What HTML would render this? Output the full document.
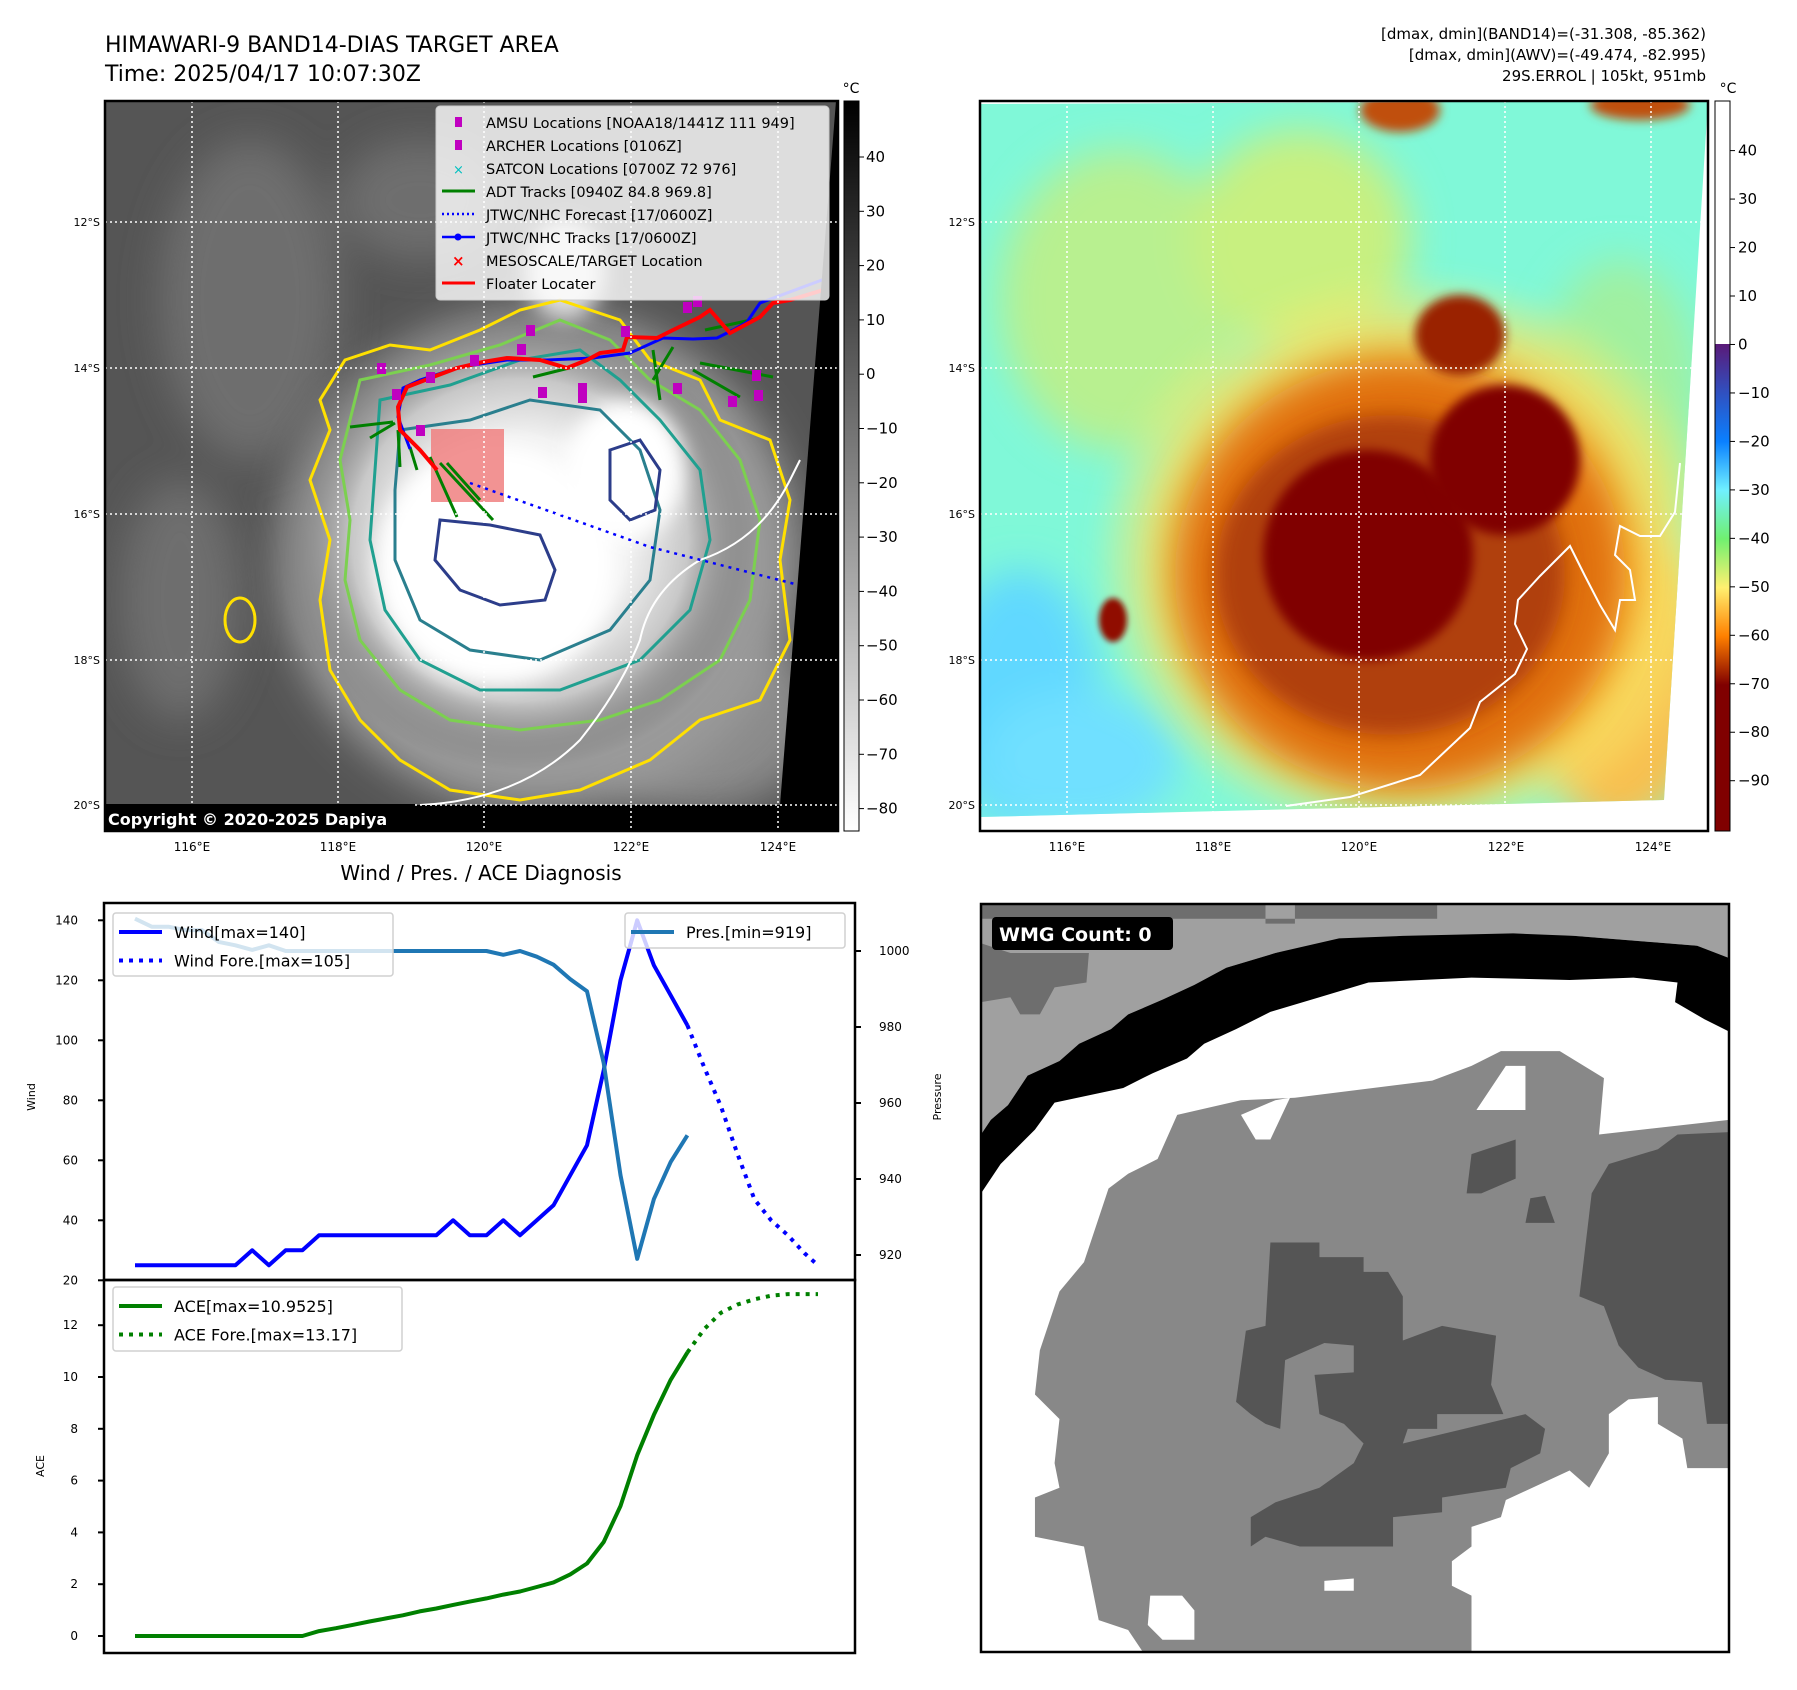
<!DOCTYPE html>
<html><head><meta charset="utf-8">
<style>
html,body{margin:0;padding:0;background:#fff;}
svg{display:block;font-family:"DejaVu Sans","Liberation Sans",sans-serif;}
</style></head>
<body>
<svg id="root" width="1797" height="1690" viewBox="0 0 1797 1690" xmlns="http://www.w3.org/2000/svg">
<defs>
  <filter id="b20" x="-50%" y="-50%" width="200%" height="200%"><feGaussianBlur stdDeviation="20"/></filter>
  <filter id="b10" x="-50%" y="-50%" width="200%" height="200%"><feGaussianBlur stdDeviation="10"/></filter>
  <filter id="b5" x="-50%" y="-50%" width="200%" height="200%"><feGaussianBlur stdDeviation="5"/></filter>
  <filter id="b3" x="-50%" y="-50%" width="200%" height="200%"><feGaussianBlur stdDeviation="3"/></filter>
  <clipPath id="clipL"><rect x="105" y="101" width="733" height="730"/></clipPath>
  <clipPath id="clipR"><polygon points="980,104 1708,101 1664,800 980,817"/></clipPath>
  <clipPath id="clipB"><rect x="981" y="904" width="748" height="748"/></clipPath>
  <linearGradient id="grayBar" x1="0" y1="0" x2="0" y2="1">
    <stop offset="0" stop-color="#000"/><stop offset="1" stop-color="#fff"/>
  </linearGradient>
  <linearGradient id="jetBar" x1="0" y1="0" x2="0" y2="1">
    <stop offset="0" stop-color="#5a1a78"/>
    <stop offset="0.1" stop-color="#3050c0"/>
    <stop offset="0.2" stop-color="#0a80ff"/>
    <stop offset="0.3" stop-color="#70f0ff"/>
    <stop offset="0.4" stop-color="#70f070"/>
    <stop offset="0.5" stop-color="#fff070"/>
    <stop offset="0.6" stop-color="#ff8000"/>
    <stop offset="0.7" stop-color="#800000"/>
    <stop offset="1" stop-color="#800000"/>
  </linearGradient>
  <radialGradient id="stormL" cx="0.5" cy="0.5" r="0.5">
    <stop offset="0" stop-color="#fff"/><stop offset="0.45" stop-color="#f2f2f2"/>
    <stop offset="0.7" stop-color="#c8c8c8"/><stop offset="1" stop-color="#5c5c5c" stop-opacity="0"/>
  </radialGradient>
  <radialGradient id="halo" cx="0.5" cy="0.5" r="0.5">
    <stop offset="0" stop-color="#ff9a20"/><stop offset="0.55" stop-color="#ffb030"/>
    <stop offset="0.8" stop-color="#f8e060" stop-opacity="0.8"/><stop offset="1" stop-color="#f8f070" stop-opacity="0"/>
  </radialGradient>
</defs>

<!-- Titles -->
<text x="105" y="52" font-size="22" fill="#000">HIMAWARI-9 BAND14-DIAS TARGET AREA</text>
<text x="105" y="81" font-size="22" fill="#000">Time: 2025/04/17 10:07:30Z</text>
<g font-size="15" text-anchor="end" fill="#000">
  <text x="1706" y="39">[dmax, dmin](BAND14)=(-31.308, -85.362)</text>
  <text x="1706" y="60">[dmax, dmin](AWV)=(-49.474, -82.995)</text>
  <text x="1706" y="81">29S.ERROL | 105kt, 951mb</text>
</g>

<!-- LEFT MAP -->
<g clip-path="url(#clipL)">
  <rect x="105" y="101" width="733" height="730" fill="#555"/>
  <g filter="url(#b20)" fill="#6e6e6e">
    <ellipse cx="250" cy="300" rx="90" ry="160"/>
    <ellipse cx="180" cy="600" rx="60" ry="120"/>
    <ellipse cx="420" cy="200" rx="80" ry="60"/>
    <ellipse cx="700" cy="720" rx="120" ry="90" fill="#8a8a8a"/>
  </g>
  <ellipse cx="540" cy="560" rx="260" ry="250" fill="#9a9a9a" filter="url(#b20)"/>
  <ellipse cx="520" cy="540" rx="240" ry="230" fill="url(#stormL)"/>
  <ellipse cx="495" cy="565" rx="120" ry="120" fill="#fff" filter="url(#b10)"/>
  <ellipse cx="625" cy="470" rx="60" ry="70" fill="#fff" filter="url(#b10)"/>
  <ellipse cx="565" cy="270" rx="40" ry="50" fill="#ddd" filter="url(#b10)"/>
  <path d="M345,360 L390,345 430,350 480,330 520,310 560,300 620,320 650,360 700,380 720,420 770,440 790,500 780,560 790,640 760,700 700,720 650,760 580,790 520,800 450,790 400,760 360,720 330,670 320,600 330,540 310,480 330,430 320,400 Z" fill="none" stroke="#ffe000" stroke-width="3"/>
  <path d="M360,380 L430,365 500,345 560,320 610,340 650,380 700,410 740,460 760,520 750,600 720,660 660,700 600,720 520,730 450,720 400,690 360,640 345,580 350,520 340,460 Z" fill="none" stroke="#7cd050" stroke-width="3"/>
  <path d="M380,400 L450,385 520,360 580,350 620,380 660,420 700,470 710,540 690,610 640,660 560,690 480,690 420,660 385,610 370,540 375,470 Z" fill="none" stroke="#20a090" stroke-width="3"/>
  <path d="M400,430 L470,420 530,400 600,410 640,450 660,510 650,580 610,630 540,660 470,650 420,620 395,560 395,490 Z" fill="none" stroke="#2a7f8e" stroke-width="3"/>
  <path d="M440,520 L490,525 540,535 555,570 545,600 500,605 460,590 435,560 Z" fill="none" stroke="#2c3d8a" stroke-width="3"/>
  <path d="M610,450 L640,440 660,470 655,510 630,520 610,500 Z" fill="none" stroke="#2c3d8a" stroke-width="3"/>
  <ellipse cx="240" cy="620" rx="15" ry="22" fill="none" stroke="#ffe000" stroke-width="3"/>
  <path d="M420,805 Q520,800 580,740 Q620,690 640,640 Q650,590 700,560 Q760,540 790,480 L800,460" fill="none" stroke="#fff" stroke-width="2"/>
  <rect x="431" y="429" width="73" height="73" fill="#f08080" fill-opacity="0.85"/>
  <polyline points="470,483 650,547 838,595" fill="none" stroke="#0000ff" stroke-width="2.5" stroke-dasharray="3,5"/>
  <g stroke="#008000" stroke-width="3">
    <line x1="350" y1="427" x2="393" y2="422"/><line x1="370" y1="438" x2="395" y2="423"/>
    <line x1="400" y1="467" x2="398" y2="430"/><line x1="417" y1="470" x2="410" y2="447"/>
    <line x1="457" y1="517" x2="430" y2="457"/><line x1="493" y1="520" x2="440" y2="463"/>
    <line x1="480" y1="500" x2="447" y2="463"/><line x1="533" y1="377" x2="573" y2="367"/>
    <line x1="660" y1="400" x2="653" y2="350"/><line x1="653" y1="380" x2="673" y2="347"/>
    <line x1="740" y1="397" x2="693" y2="370"/><line x1="773" y1="377" x2="700" y2="363"/>
    <line x1="705" y1="330" x2="760" y2="318"/>
  </g>
  <polyline points="410,449 398,417 403,388 420,380 460,367 507,360 547,360 593,358 630,353 663,338 693,339 717,338 733,330 747,322 760,303 830,277" fill="none" stroke="#0000ff" stroke-width="3"/>
  <polyline points="437,470 420,450 400,430 398,407 407,387 420,382 433,377 457,368 483,362 507,358 540,360 567,368 587,360 600,353 623,350 627,337 657,338 673,330 700,317 710,310 730,333 760,317 773,303 790,300 830,288" fill="none" stroke="#ff0000" stroke-width="4"/>
  <g fill="#c000c0">
    <rect x="377" y="363" width="9" height="11"/><rect x="392" y="389" width="9" height="11"/>
    <rect x="426" y="372" width="9" height="11"/><rect x="470" y="355" width="9" height="11"/>
    <rect x="517" y="344" width="9" height="11"/><rect x="526" y="325" width="9" height="11"/>
    <rect x="538" y="387" width="9" height="11"/><rect x="578" y="383" width="9" height="20"/>
    <rect x="621" y="326" width="9" height="11"/><rect x="683" y="302" width="9" height="11"/>
    <rect x="693" y="296" width="9" height="11"/><rect x="752" y="370" width="9" height="11"/>
    <rect x="754" y="390" width="9" height="11"/><rect x="728" y="396" width="9" height="11"/>
    <rect x="673" y="383" width="9" height="11"/><rect x="416" y="425" width="9" height="11"/>
  </g>
  <polygon points="836,101 840,101 840,835 780,835 780,805" fill="#000"/>
  <rect x="105" y="805" width="735" height="30" fill="#000"/>
  <g stroke="#fff" stroke-width="1.5" stroke-dasharray="2,3">
    <line x1="192" y1="101" x2="192" y2="831"/><line x1="338" y1="101" x2="338" y2="831"/>
    <line x1="484" y1="101" x2="484" y2="831"/><line x1="631" y1="101" x2="631" y2="831"/>
    <line x1="778" y1="101" x2="778" y2="831"/>
    <line x1="105" y1="222" x2="838" y2="222"/><line x1="105" y1="368" x2="838" y2="368"/>
    <line x1="105" y1="514" x2="838" y2="514"/><line x1="105" y1="660" x2="838" y2="660"/>
    <line x1="105" y1="805" x2="838" y2="805"/>
  </g>
</g>
<rect x="105" y="101" width="733" height="730" fill="none" stroke="#000" stroke-width="2.5"/>
<g>
  <rect x="436" y="106" width="393" height="194" rx="4" fill="#fff" fill-opacity="0.8" stroke="#ccc"/>
  <g font-size="14.5" fill="#000">
    <rect x="455" y="117" width="7" height="10" fill="#c000c0"/><text x="486" y="128">AMSU Locations [NOAA18/1441Z 111 949]</text>
    <rect x="455" y="140" width="7" height="10" fill="#c000c0"/><text x="486" y="151">ARCHER Locations [0106Z]</text>
    <text x="453" y="174" fill="#00c0c0" font-size="13">×</text><text x="486" y="174">SATCON Locations [0700Z 72 976]</text>
    <line x1="442" y1="191" x2="475" y2="191" stroke="#008000" stroke-width="3"/><text x="486" y="197">ADT Tracks [0940Z 84.8 969.8]</text>
    <line x1="442" y1="214" x2="475" y2="214" stroke="#0000ff" stroke-width="2.5" stroke-dasharray="2,3"/><text x="486" y="220">JTWC/NHC Forecast [17/0600Z]</text>
    <line x1="442" y1="237" x2="475" y2="237" stroke="#0000ff" stroke-width="2.5"/><circle cx="458" cy="237" r="3.5" fill="#0000ff"/><text x="486" y="243">JTWC/NHC Tracks [17/0600Z]</text>
    <text x="452" y="266" fill="#ff0000" font-size="15" font-weight="bold">×</text><text x="486" y="266">MESOSCALE/TARGET Location</text>
    <line x1="442" y1="283" x2="475" y2="283" stroke="#ff0000" stroke-width="3"/><text x="486" y="289">Floater Locater</text>
  </g>
</g>
<g>
  <rect x="105" y="804" width="310" height="27" fill="#000"/>
  <text x="108" y="825" font-size="16" font-weight="bold" fill="#fff">Copyright © 2020-2025 Dapiya</text>
</g>
<g>
  <rect x="844" y="101" width="15" height="730" fill="url(#grayBar)" stroke="#000" stroke-width="1"/>
  <text x="851" y="93" font-size="14" text-anchor="middle">°C</text>
  <g id="cbL" font-size="15"></g>
</g>

<!-- RIGHT MAP -->
<g>
  <g clip-path="url(#clipR)">
    <rect x="975" y="95" width="740" height="730" fill="#80f8d8"/>
    <g filter="url(#b20)">
      <ellipse cx="1020" cy="700" rx="80" ry="130" fill="#60d8ff"/>
      <ellipse cx="1080" cy="760" rx="100" ry="70" fill="#70e0ff"/>
      <ellipse cx="1120" cy="300" rx="120" ry="150" fill="#b8f090"/>
      <ellipse cx="1300" cy="240" rx="110" ry="110" fill="#c8f080"/>
      <ellipse cx="1620" cy="400" rx="80" ry="140" fill="#a0f0a0"/>
      <ellipse cx="1620" cy="680" rx="90" ry="150" fill="#f8c050"/>
    </g>
    <ellipse cx="1410" cy="560" rx="320" ry="290" fill="url(#halo)" filter="url(#b10)"/>
    <ellipse cx="1400" cy="575" rx="225" ry="215" fill="#e07010" filter="url(#b20)"/>
    <ellipse cx="1390" cy="575" rx="175" ry="160" fill="#b04008" filter="url(#b10)"/>
    <ellipse cx="1368" cy="555" rx="105" ry="105" fill="#800000" filter="url(#b5)"/>
    <ellipse cx="1505" cy="460" rx="75" ry="75" fill="#800000" filter="url(#b5)"/>
    <ellipse cx="1460" cy="335" rx="45" ry="40" fill="#9a2000" filter="url(#b5)"/>
    <ellipse cx="1400" cy="110" rx="40" ry="22" fill="#c05010" filter="url(#b5)"/>
    <ellipse cx="1640" cy="105" rx="50" ry="15" fill="#c05010" filter="url(#b5)"/>
    <ellipse cx="1113" cy="620" rx="14" ry="22" fill="#901000" filter="url(#b3)"/>
    <path d="M1286,806 L1350,797 1420,775 1470,728 1480,702 1515,674 1527,649 1515,624 1518,600 1540,576 1570,546 1585,576 1600,605 1615,630 1620,600 1635,600 1630,570 1615,555 1620,526 1640,536 1660,536 1675,512 1680,463" fill="none" stroke="#fff" stroke-width="2"/>
  </g>
  <g stroke="#fff" stroke-width="1.5" stroke-dasharray="2,3">
    <line x1="1067" y1="101" x2="1067" y2="831"/><line x1="1213" y1="101" x2="1213" y2="831"/>
    <line x1="1359" y1="101" x2="1359" y2="831"/><line x1="1505" y1="101" x2="1505" y2="831"/>
    <line x1="1651" y1="101" x2="1651" y2="831"/>
    <line x1="980" y1="222" x2="1708" y2="222"/><line x1="980" y1="368" x2="1708" y2="368"/>
    <line x1="980" y1="514" x2="1708" y2="514"/><line x1="980" y1="660" x2="1708" y2="660"/>
    <line x1="980" y1="805" x2="1708" y2="805"/>
  </g>
  <rect x="980" y="101" width="728" height="730" fill="none" stroke="#000" stroke-width="2.5"/>
</g>
<g>
  <rect x="1715" y="101" width="15" height="243" fill="#fff"/>
  <rect x="1715" y="344" width="15" height="487" fill="url(#jetBar)"/>
  <rect x="1715" y="101" width="15" height="730" fill="none" stroke="#000" stroke-width="1"/>
  <text x="1728" y="93" font-size="14" text-anchor="middle">°C</text>
  <g id="cbR" font-size="15"></g>
</g>
<g id="mapTicks" font-size="11" fill="#000"></g>

<!-- CHART -->
<text x="481" y="880" font-size="20" text-anchor="middle">Wind / Pres. / ACE Diagnosis</text>
<g id="chart"></g>

<!-- WMG panel -->
<g>
  <g clip-path="url(#clipB)">
    <g transform="translate(981,904) scale(0.4905,0.4905)">
      <rect x="0" y="0" width="1525" height="1525" fill="#fff"/>
      <polygon points="0,0 1525,0 1525,110 1460,85 1210,65 860,70 730,75 600,100 500,130 435,165 370,195 300,225 265,255 200,285 160,320 95,350 55,410 20,440 0,470" fill="#a0a0a0"/>
      <polygon points="0,0 580,0 580,40 640,40 640,0 930,0 930,30 0,30" fill="#6e6e6e"/>
      <polygon points="0,80 60,100 220,100 215,160 150,170 120,225 80,225 60,190 0,200" fill="#6e6e6e"/>
      <polygon points="0,470 20,440 55,410 95,350 160,320 200,285 265,255 300,225 370,195 435,165 500,130 600,100 730,70 860,65 1085,60 1210,65 1460,85 1525,110 1525,260 1475,235 1415,200 1420,160 1330,150 1200,155 1000,150 790,160 690,190 590,220 520,255 455,285 420,315 350,345 290,375 150,405 110,460 40,530 0,590" fill="#000"/>
      <polygon points="110,1000 120,910 160,790 210,730 260,580 300,550 360,520 400,430 530,400 640,395 920,360 1000,330 1060,300 1180,300 1270,355 1260,470 1525,440 1525,1150 1440,1150 1430,1090 1380,1060 1380,1005 1320,1010 1280,1040 1280,1120 1240,1190 1200,1155 1070,1215 1060,1250 1000,1270 1000,1310 960,1340 960,1390 1000,1410 1000,1525 330,1525 300,1480 240,1460 210,1310 110,1290 110,1210 160,1190 150,1140 160,1050 110,1000" fill="#888"/>
      <polygon points="1525,465 1420,470 1380,500 1280,530 1245,590 1220,800 1270,820 1300,900 1340,945 1395,970 1470,975 1480,1060 1525,1060" fill="#555"/>
      <polygon points="590,690 690,690 690,720 780,720 780,750 830,750 860,800 860,890 940,860 1050,880 1040,980 1065,1040 930,1040 930,1070 870,1070 860,1100 1110,1040 1150,1070 1140,1120 1080,1150 1070,1190 940,1210 940,1240 840,1250 840,1310 650,1310 580,1290 550,1310 550,1250 600,1220 690,1190 760,1140 780,1100 740,1060 690,1040 680,960 760,955 760,900 700,895 620,930 610,1070 580,1060 550,1040 520,1015 540,870 580,860" fill="#555"/>
      <polygon points="1000,510 1090,480 1090,560 1020,590 990,590" fill="#555"/>
      <polygon points="1120,600 1150,595 1170,650 1110,650" fill="#555"/>
      <polygon points="700,1380 760,1375 760,1400 700,1400" fill="#fff"/>
      <polygon points="345,1410 410,1410 435,1440 435,1500 370,1500 340,1470" fill="#fff"/>
      <polygon points="530,430 600,400 630,395 590,480 560,480" fill="#fff"/>
      <polygon points="1010,420 1070,330 1110,330 1110,420" fill="#fff"/>
    </g>
  </g>
  <rect x="981" y="904" width="748" height="748" fill="none" stroke="#000" stroke-width="2.5"/>
  <rect x="992" y="917" width="181" height="33" rx="4" fill="#000"/>
  <text x="999" y="941" font-size="19" font-weight="bold" fill="#fff">WMG Count: 0</text>
</g>

<script>
// ---- Chart data ----
const windHist = [25,25,25,25,25,25,25,30,25,30,30,35,35,35,35,35,35,35,35,40,35,35,40,35,40,45,55,65,90,120,140,125,115,105];
const windForeIdx = [33,34,35,36,37,38,39,40,40.8];
const windFore = [105,91,78,62,47,40,35,29,25];
const presHist = [1008.5,1006.4,1006.4,1005.5,1005.5,1002.4,1001.5,1000.3,1001.5,1000,1000,1000,1000,1000,1000,1000,1000,1000,1000,1000,1000,1000,999,1000,998.5,996.4,992.6,989.4,970.5,941,919,934.7,944.5,951.5];
const aceHist = [0,0,0,0,0,0,0,0,0,0,0,0.19,0.3,0.43,0.56,0.68,0.8,0.95,1.06,1.2,1.33,1.45,1.6,1.72,1.89,2.07,2.38,2.8,3.63,5.02,6.98,8.54,9.89,10.95];
const aceForeIdx = [33,34,35,36,37,38,39,40.8];
const aceFore = [10.95,11.85,12.48,12.8,13.0,13.14,13.2,13.2];
const windTicks = [20,40,60,80,100,120,140];
const presTicks = [920,940,960,980,1000];
const aceTicks = [0,2,4,6,8,10,12];
const grayTicks = [40,30,20,10,0,-10,-20,-30,-40,-50,-60,-70,-80];
const jetTicks = [40,30,20,10,0,-10,-20,-30,-40,-50,-60,-70,-80,-90];
const lonLabels = ["116°E","118°E","120°E","122°E","124°E"];
const latLabels = ["12°S","14°S","16°S","18°S","20°S"];

const NS = "http://www.w3.org/2000/svg";
function mk(tag, attrs, parent){const e=document.createElementNS(NS,tag);for(const k in attrs)e.setAttribute(k,attrs[k]);parent.appendChild(e);return e;}
const X0=104, X1=855, T=903, MID=1280, B=1653;
const xs = i => 135 + i*16.74;
const yWind = v => 920.3 + (140 - v)*3.0;
const yPres = v => 951 + (1000 - v)*3.8;
const yAce = v => 1636 - v*25.9;
const gray = v => 157 + (40 - v)*5.43;
const jet = v => 150.6 + (40 - v)*4.847;

const ch = document.getElementById('chart');
function pts(xsArr, ys, fy){return xsArr.map((x,i)=>xs(x).toFixed(1)+','+fy(ys[i]).toFixed(1)).join(' ');}
const idxH = windHist.map((_,i)=>i);
const idxP = presHist.map((_,i)=>i);
const idxA = aceHist.map((_,i)=>i);

const defs = document.querySelector('defs');
const cp1 = mk('clipPath',{id:'cTop'},defs); mk('rect',{x:X0,y:T,width:X1-X0,height:MID-T},cp1);
const cp2 = mk('clipPath',{id:'cBot'},defs); mk('rect',{x:X0,y:MID,width:X1-X0,height:B-MID},cp2);

const gTop = mk('g',{'clip-path':'url(#cTop)'},ch);
let e;
e = mk('polyline',{points:pts(windForeIdx,windFore,yWind),fill:'none',stroke:'#0000ff','stroke-width':4,'stroke-dasharray':'4,6'},gTop);


e = mk('polyline',{points:pts(idxH,windHist,yWind),fill:'none',stroke:'#0000ff','stroke-width':4,'stroke-linejoin':'round'},gTop);


e = mk('polyline',{points:pts(idxP,presHist,yPres),fill:'none',stroke:'#1f77b4','stroke-width':4,'stroke-linejoin':'round'},gTop);



const gBot = mk('g',{'clip-path':'url(#cBot)'},ch);
e = mk('polyline',{points:pts(aceForeIdx,aceFore,yAce),fill:'none',stroke:'#008000','stroke-width':4,'stroke-dasharray':'4,6'},gBot);


e = mk('polyline',{points:pts(idxA,aceHist,yAce),fill:'none',stroke:'#008000','stroke-width':4,'stroke-linejoin':'round'},gBot);



mk('rect',{x:X0,y:T,width:X1-X0,height:MID-T,fill:'none',stroke:'#000','stroke-width':2.5},ch);
mk('rect',{x:X0,y:MID,width:X1-X0,height:B-MID,fill:'none',stroke:'#000','stroke-width':2.5},ch);
windTicks.forEach(v=>{const y=yWind(v);mk('line',{x1:X0-6,y1:y,x2:X0,y2:y,stroke:'#000','stroke-width':2},ch);
  const t=mk('text',{x:X0-26,y:y+4,'font-size':12,'text-anchor':'end'},ch);t.textContent=v;
  
  });
presTicks.forEach(v=>{const y=yPres(v);mk('line',{x1:X1,y1:y,x2:X1+6,y2:y,stroke:'#000','stroke-width':2},ch);
  const t=mk('text',{x:X1+24,y:y+4,'font-size':12},ch);t.textContent=v;
  
  });
aceTicks.forEach(v=>{const y=yAce(v);mk('line',{x1:X0-6,y1:y,x2:X0,y2:y,stroke:'#000','stroke-width':2},ch);
  const t=mk('text',{x:X0-26,y:y+4,'font-size':12,'text-anchor':'end'},ch);t.textContent=v;
  
  });
let lab;
lab = mk('text',{x:0,y:0,'font-size':11,'text-anchor':'middle',transform:'translate(35,1097) rotate(-90)'},ch); lab.textContent='Wind';


lab = mk('text',{x:0,y:0,'font-size':11,'text-anchor':'middle',transform:'translate(44,1466) rotate(-90)'},ch); lab.textContent='ACE';


lab = mk('text',{x:0,y:0,'font-size':11,'text-anchor':'middle',transform:'translate(941,1097) rotate(-90)'},ch); lab.textContent='Pressure';



function legend(x,y,w,h,items,name){
  const g=mk('g',{},ch);
  
  
  mk('rect',{x:x,y:y,width:w,height:h,rx:3,fill:'#fff','fill-opacity':0.8,stroke:'#d0d0d0','stroke-width':1.5},g);
  items.forEach((it,i)=>{const cy=y+19+i*28.5;
    const a={x1:x+6,y1:cy,x2:x+49,y2:cy,stroke:it[1],'stroke-width':4};if(it[2])a['stroke-dasharray']='4,6';
    mk('line',a,g);const t=mk('text',{x:x+61,y:cy+6,'font-size':16},g);t.textContent=it[0];});
}
legend(113,913,280,63,[['Wind[max=140]','#0000ff',false],['Wind Fore.[max=105]','#0000ff',true]],'wind-legend');
legend(625,913,220,35,[['Pres.[min=919]','#1f77b4',false]],'pressure-legend');
legend(113,1287,289,64,[['ACE[max=10.9525]','#008000',false],['ACE Fore.[max=13.17]','#008000',true]],'ace-legend');

const cbL=document.getElementById('cbL');
grayTicks.forEach(v=>{const y=gray(v);mk('line',{x1:859,y1:y,x2:864,y2:y,stroke:'#000'},cbL);
  const t=mk('text',{x:866,y:y+5},cbL);t.textContent=(v<0?'\u2212'+(-v):v);
  
  });
const cbR=document.getElementById('cbR');
jetTicks.forEach(v=>{const y=jet(v);mk('line',{x1:1730,y1:y,x2:1735,y2:y,stroke:'#000'},cbR);
  const t=mk('text',{x:1738,y:y+5},cbR);t.textContent=(v<0?'\u2212'+(-v):v);
  
  });

const mt=document.getElementById('mapTicks');
const lonL=[192,338,484,631,778], latY=[222,368,514,660,805];
[0,875].forEach(off=>{
  lonLabels.forEach((s,i)=>{const t=mk('text',{x:lonL[i]+off,y:851,'text-anchor':'middle','font-size':12},mt);t.textContent=s;
    
    });
  latLabels.forEach((s,i)=>{const t=mk('text',{x:(off?975:100),y:latY[i]+4,'text-anchor':'end','font-size':11},mt);t.textContent=s;
    
    });
});
</script>
</svg>
</body></html>
